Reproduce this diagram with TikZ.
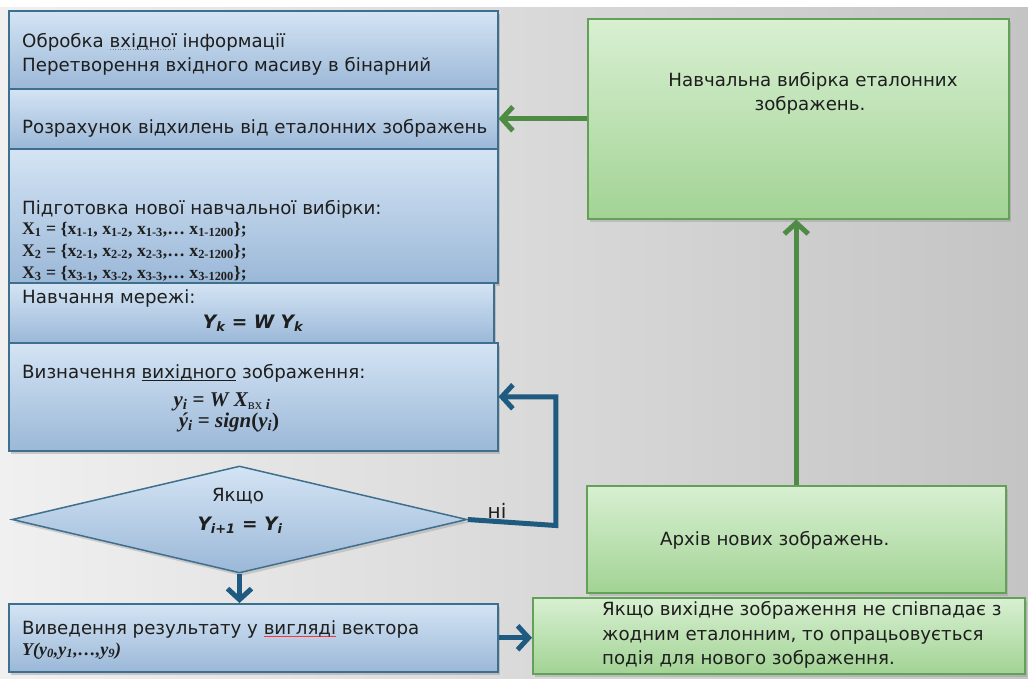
\documentclass[tikz,border=0pt]{standalone}
\usepackage{fontspec}
\setmainfont{DejaVu Sans}
\newfontfamily\tms{Liberation Serif}
\usetikzlibrary{arrows.meta,shapes.geometric,shadows}
\definecolor{bgl}{HTML}{F0F0F0}
\definecolor{bgr}{HTML}{C4C4C4}
\definecolor{bluetop}{HTML}{D4E4F4}
\definecolor{bluebot}{HTML}{9BB8D8}
\definecolor{blueedge}{HTML}{3F6F8E}
\definecolor{greentop}{HTML}{D8F0D2}
\definecolor{greenbot}{HTML}{A2D394}
\definecolor{greenedge}{HTML}{62A157}
\definecolor{barrow}{HTML}{1F5A80}
\definecolor{garrow}{HTML}{4E8C45}
\definecolor{txtc}{HTML}{1E1E1E}
\newsavebox\ulbox
\newcommand\dotul[1]{\sbox\ulbox{#1}\rlap{\color{gray}\hbox to\wd\ulbox{\leaders\hbox to 2.5pt{\hss\rule[-3pt]{1.2pt}{1.2pt}\hss}\hfill}}\usebox\ulbox}
\newcommand\solidul[2]{\sbox\ulbox{#2}\rlap{\color{#1}\rule[-3pt]{\wd\ulbox}{1pt}}\usebox\ulbox}
\begin{document}
\begin{tikzpicture}[x=1pt,y=-1pt,
  bluebox/.style={draw=blueedge, line width=1.5pt, top color=bluetop, bottom color=bluebot,
    rectangle, anchor=north west, inner sep=0pt,
    drop shadow={shadow xshift=2pt, shadow yshift=-3pt, opacity=0.35}},
  greenbox/.style={draw=greenedge, line width=1.5pt, top color=greentop, bottom color=greenbot,
    rectangle, anchor=north west, inner sep=0pt,
    drop shadow={shadow xshift=2pt, shadow yshift=-3pt, opacity=0.3}},
  t/.style={anchor=base west, inner sep=0pt, text=txtc, font=\fontsize{18.2}{22}\selectfont},
  tc/.style={anchor=base, inner sep=0pt, text=txtc, font=\fontsize{18.2}{22}\selectfont},
  tm/.style={anchor=base west, inner sep=0pt, text=txtc, font=\fontsize{17.7}{20}\selectfont\tms\bfseries},
  tmc/.style={anchor=base, inner sep=0pt, text=txtc, font=\fontsize{21}{24}\selectfont\tms\bfseries\itshape},
  barr/.style={draw=barrow, line width=5pt, -{Straight Barb[length=11pt, width=24pt]}},
  garr/.style={draw=garrow, line width=5pt, -{Straight Barb[length=11pt, width=24pt]}}
]
\useasboundingbox (0,0) rectangle (1028,678);
\shade[left color=bgl, right color=bgr] (0,0) rectangle (1028,678);
\fill[white] (0,0) rectangle (1028,7);

% blue boxes
\node[bluebox, minimum width=489pt, minimum height=78pt] (b1) at (8,10) {};
\node[bluebox, minimum width=489pt, minimum height=60pt] (b2) at (8,88) {};
\node[bluebox, minimum width=489pt, minimum height=134pt] (b3) at (8,148) {};
\node[bluebox, minimum width=485pt, minimum height=60pt] (b4) at (8,282) {};
\node[bluebox, minimum width=489pt, minimum height=108pt] (b5) at (8,342) {};
\node[draw=blueedge, line width=1.5pt, top color=bluetop, bottom color=bluebot,
  diamond, inner sep=0pt, minimum width=455pt, minimum height=107pt,
  drop shadow={shadow xshift=2pt, shadow yshift=-3pt, opacity=0.3}] (dia) at (239.5,519.5) {};
\node[bluebox, minimum width=489pt, minimum height=68pt] (b6) at (8,603) {};

% green boxes
\node[greenbox, minimum width=421pt, minimum height=200pt] (g1) at (587,18) {};
\node[greenbox, minimum width=419pt, minimum height=107pt] (g2) at (586,485) {};
\node[greenbox, minimum width=492pt, minimum height=76pt] (g3) at (532,597) {};

% texts
\node[t] (t1a) at (22,47) {Обробка \dotul{вхідної} інформації};
\node[t] (t1b) at (22,71) {Перетворення вхідного масиву в бінарний};
\node[t] (t2) at (22,133) {Розрахунок відхилень від еталонних зображень};
\node[t] (t3) at (22,214) {Підготовка нової навчальної вибірки:};
\node[tm] (x1) at (22,234) {X\textsubscript{1} = \{x\textsubscript{1-1}, x\textsubscript{1-2}, x\textsubscript{1-3},… x\textsubscript{1-1200}\};};
\node[tm] (x2) at (22,256) {X\textsubscript{2} = \{x\textsubscript{2-1}, x\textsubscript{2-2}, x\textsubscript{2-3},… x\textsubscript{2-1200}\};};
\node[tm] (x3) at (22,278) {X\textsubscript{3} = \{x\textsubscript{3-1}, x\textsubscript{3-2}, x\textsubscript{3-3},… x\textsubscript{3-1200}\};};
\node[t] (t4) at (22,303) {Навчання мережі:};
\node[tc, font=\fontsize{18.5}{22}\selectfont\bfseries\itshape] (y4) at (253,328) {Y\textsubscript{k} = W Y\textsubscript{k}};
\node[t] (t5) at (22,378) {Визначення \solidul{txtc}{вихідного} зображення:};
\node[tmc] (y5a) at (222,406) {y\textsubscript{i} {\upshape=} W X\textsubscript{\upshape\mdseries вх \itshape\bfseries i}};
\node[tmc] (y5b) at (229,427) {ý\textsubscript{i} {\upshape=} sign{\upshape(}y\textsubscript{i}{\upshape)}};
\node[tc] (tdia) at (238,501) {Якщо};
\node[tc, font=\fontsize{18.5}{22}\selectfont\bfseries\itshape] (ydia) at (240,530) {Y\textsubscript{i+1} = Y\textsubscript{i}};
\node[t] (t6) at (22,634) {Виведення результату у \solidul{red!80}{вигляді} вектора};
\node[tm, font=\fontsize{18}{20}\selectfont\tms\bfseries\itshape] (y6) at (22,655) {Y(y\textsubscript{0},y\textsubscript{1},…,y\textsubscript{9})};

\node[tc] (g1a) at (813,86) {Навчальна вибірка еталонних};
\node[tc] (g1b) at (810,110) {зображень.};
\node[t] (g2a) at (660,545) {Архів нових зображень.};
\node[t] (g3a) at (602,615) {Якщо вихідне зображення не співпадає з};
\node[t] (g3b) at (602,640) {жодним еталонним, то опрацьовується};
\node[t] (g3c) at (602,664) {подія для нового зображення.};

% connectors
\draw[garr] (g1.west) -- (b2.east);
\draw[garr] (g2.north) -- (g2.north |- g1.south);
\draw[barr] (dia.east) -- ++(88,6) coordinate (c1) |- (b5.east);
\node[anchor=base, inner sep=0pt, text=txtc, font=\fontsize{20}{24}\selectfont] (ni) at (497,518) {ні};
\draw[barr] (dia.south) -- (dia.south |- b6.north);
\draw[barr] (b6.east) -- (b6.east -| g3.west);
\end{tikzpicture}
\end{document}
